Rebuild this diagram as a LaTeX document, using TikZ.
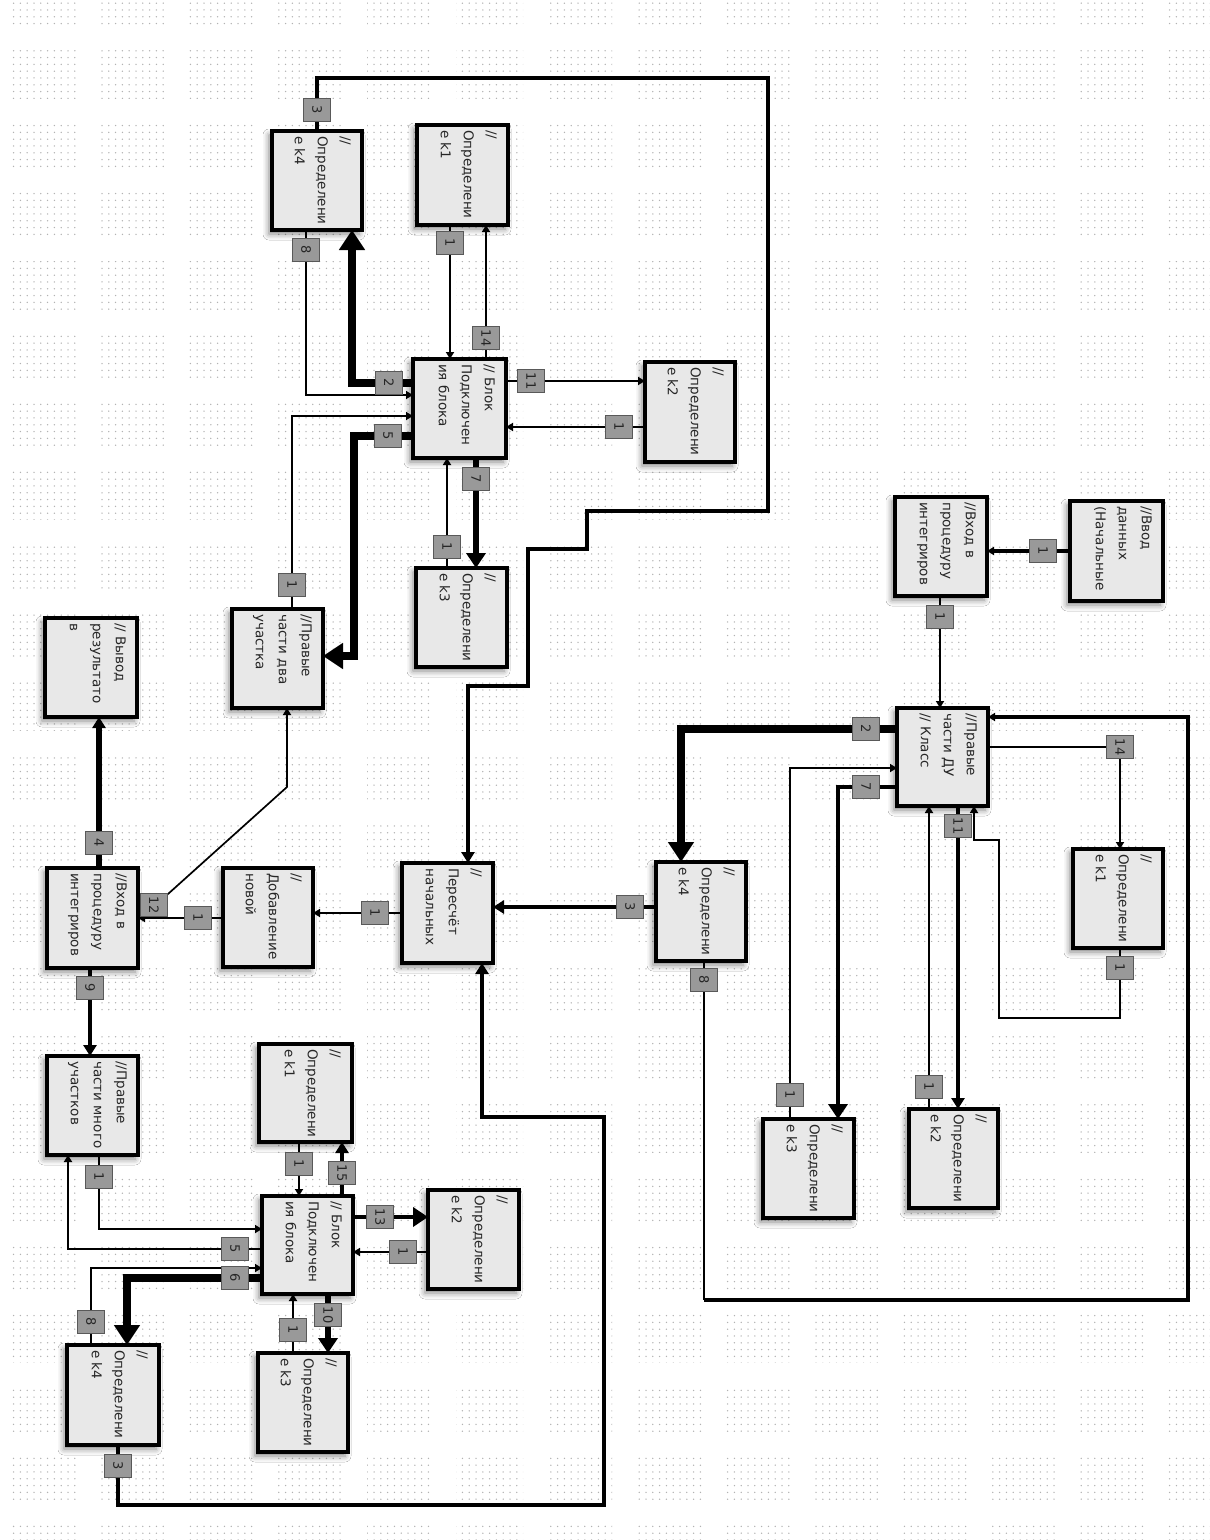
\documentclass[tikz,border=0pt]{standalone}
\usepackage{fontspec}
\setmainfont{DejaVu Sans}
\usetikzlibrary{arrows.meta,patterns.meta,shadows.blur}

\tikzset{
  tile/.style={pattern={Dots[distance=6.8pt,radius=0.75pt]},pattern color=black!30},
  boxst/.style={draw=black,line width=3.2pt,fill=black!9,inner sep=0pt,outer sep=0pt,
    blur shadow={shadow xshift=-3pt,shadow yshift=-4pt,shadow blur radius=6pt,shadow opacity=50}},
  txt/.style={rotate=-90,anchor=north west,align=left,inner sep=0pt,text=black!85,
    font=\fontsize{13.5}{23}\selectfont},
  lab/.style={rotate=-90,draw=black!65,line width=1.3pt,fill=black!40,inner sep=0pt,
    minimum width=23pt,minimum height=27pt,font=\fontsize{13}{13}\selectfont,text=black!85},
  w1/.style={line width=1.7pt},
  w2/.style={line width=2.5pt},
  w3/.style={line width=3.3pt},
  w4/.style={line width=4.5pt},
  w5/.style={line width=5.8pt},
  w7/.style={line width=7.5pt},
  sa/.style={-{Triangle[length=7pt,width=8pt]}},
  ma/.style={-{Triangle[length=11pt,width=13pt]}},
  la/.style={-{Triangle[length=15pt,width=19pt]}},
  ba/.style={-{Triangle[length=20pt,width=25pt]}},
}

% box: name, x1, y1, x2, y2, text lines
\newcommand\mkbox[6]{%
  \node[boxst,minimum width={(#4-#2)*1pt},minimum height={(#5-#3)*1pt}] (#1) at ({(#2+#4)/2},{(#3+#5)/2}) {};
  \node[txt] at ([xshift=-11pt,yshift=-5pt]#1.north east) {#6};
}

\begin{document}
\begin{tikzpicture}[x=1pt,y=-1pt]
\useasboundingbox (0,0) rectangle (1210,1540);
\fill[white] (0,0) rectangle (1210,1540);

% canvas grid tiles
\foreach \i in {0,...,13}{
  \foreach \j in {0,...,22}{
    \path[tile] ({11+89*\i},{-20+70.25*\j}) rectangle ++(67,48);
  }
}

% ---------- blocks ----------
\mkbox{b1kf}{272}{131}{362}{230}{//\\Определени\\е k4}
\mkbox{b1ka}{417}{125}{508}{225}{//\\Определени\\е k1}
\mkbox{b1blk}{413}{359}{506}{458}{// Блок\\Подключен\\ия блока}
\mkbox{b1kb}{645}{362}{735}{462}{//\\Определени\\е k2}
\mkbox{b1kc}{416}{568}{507}{667}{//\\Определени\\е k3}
\mkbox{ptwo}{232}{609}{323}{708}{//Правые\\части два\\участка}
\mkbox{outp}{45}{618}{137}{717}{// Вывод\\результато\\в}
\mkbox{inl}{47}{868}{138}{968}{//Вход в\\процедуру\\интегриров}
\mkbox{addn}{223}{868}{313}{967}{//\\Добавление\\новой}
\mkbox{recs}{402}{863}{493}{963}{//\\Пересчёт\\начальных}
\mkbox{pmany}{47}{1056}{138}{1155}{//Правые\\части много\\участков}
\mkbox{b2ka}{259}{1044}{352}{1142}{//\\Определени\\е k1}
\mkbox{b2blk}{262}{1196}{353}{1294}{// Блок\\Подключен\\ия блока}
\mkbox{b2kb}{428}{1190}{519}{1289}{//\\Определени\\е k2}
\mkbox{b2kc}{258}{1353}{348}{1452}{//\\Определени\\е k3}
\mkbox{b2kf}{67}{1345}{159}{1445}{//\\Определени\\е k4}
\mkbox{inr}{895}{497}{987}{596}{//Вход в\\процедуру\\интегриров}
\mkbox{dat}{1070}{501}{1163}{601}{//Ввод\\данных\\(Начальные}
\mkbox{rhs}{897}{708}{988}{806}{//Правые\\части ДУ\\// Класс}
\mkbox{rka}{1073}{849}{1163}{948}{//\\Определени\\е k1}
\mkbox{rkf}{656}{862}{746}{961}{//\\Определени\\е k4}
\mkbox{rkc}{763}{1119}{854}{1218}{//\\Определени\\е k3}
\mkbox{rkb}{909}{1109}{998}{1208}{//\\Определени\\е k2}

% ---------- label positions ----------
\coordinate (c1) at (317,110);  \coordinate (c2) at (306,250);
\coordinate (c3) at (389,383);  \coordinate (c5) at (388,436);
\coordinate (c4) at (292,585);  \coordinate (c6) at (450,243);
\coordinate (c7) at (486,338);  \coordinate (c8) at (531,381);
\coordinate (c9) at (619,427);  \coordinate (c10) at (476,479);
\coordinate (c11) at (447,547); \coordinate (c12) at (99,843);
\coordinate (c13) at (154,905); \coordinate (c14) at (198,918);
\coordinate (c15) at (375,913); \coordinate (c16) at (630,907);
\coordinate (c17) at (118,1466);\coordinate (c18) at (90,988);
\coordinate (c19) at (99,1177); \coordinate (c20) at (235,1249);
\coordinate (c21) at (91,1322); \coordinate (c22) at (235,1278);
\coordinate (c23) at (299,1164);\coordinate (c24) at (342,1173);
\coordinate (c25) at (380,1217);\coordinate (c26) at (403,1252);
\coordinate (c27) at (293,1330);\coordinate (c28) at (328,1315);
\coordinate (c29) at (1043,551);\coordinate (c30) at (940,617);
\coordinate (c31) at (704,980); \coordinate (c32) at (866,729);
\coordinate (c33) at (790,1095);\coordinate (c34) at (866,787);
\coordinate (c35) at (929,1087);\coordinate (c36) at (958,826);
\coordinate (c37) at (1120,968);\coordinate (c38) at (1120,747);

% ---------- connectors: upper block cluster ----------
\coordinate (t1) at (468,686);
\draw[w3,ma] (c1 |- b1kf.north) -- (317,78) -- (768,78) -- (768,511) -- (587,511)
  -- (587,549) -- (528,549) -- (528,686) -- (t1) -- (t1 |- recs.north);
\coordinate (t2) at (306,395);
\draw[w1,sa] (t2 |- b1kf.south) -- (t2) -- (t2 -| b1blk.west);
\coordinate (t3) at (352,383);
\draw[w7,ba] (b1blk.west |- t3) -- (t3) -- (t3 |- b1kf.south);
\coordinate (t4) at (292,416);
\draw[w1,sa] (t4 |- ptwo.north) -- (t4) -- (t4 -| b1blk.west);
\coordinate (t5) at (354,436); \coordinate (t5b) at (354,656);
\draw[w7,ba] (b1blk.west |- t5) -- (t5) -- (t5b) -- (t5b -| ptwo.east);
\draw[w2,sa] (c6 |- b1ka.south) -- (c6 |- b1blk.north);
\draw[w1,sa] (c7 |- b1blk.north) -- (c7 |- b1ka.south);
\draw[w2,sa] (b1blk.east |- c8) -- (b1kb.west |- c8);
\draw[w2,sa] (b1kb.west |- c9) -- (b1blk.east |- c9);
\draw[w5,la] (c10 |- b1blk.south) -- (c10 |- b1kc.north);
\draw[w1,sa] (c11 |- b1kc.north) -- (c11 |- b1blk.south);

% ---------- connectors: middle row ----------
\draw[w5,ma] (c12 |- inl.north) -- (c12 |- outp.south);
\coordinate (t13a) at (168,894); \coordinate (t13b) at (287,787);
\draw[w1,sa] (inl.east |- c13) -- (c13) -- (t13a) -- (t13b) -- (t13b |- ptwo.south);
\draw[w1,sa] (addn.west |- c14) -- (inl.east |- c14);
\draw[w1,sa] (recs.west |- c15) -- (addn.east |- c15);
\draw[w4,ma] (rkf.west |- c16) -- (recs.east |- c16);
\coordinate (t17) at (482,1117);
\draw[w3,ma] (c17 |- b2kf.south) -- (118,1505) -- (604,1505) -- (604,1117) -- (t17) -- (t17 |- recs.south);
\draw[w3,ma] (c18 |- inl.south) -- (c18 |- pmany.north);

% ---------- connectors: lower block cluster ----------
\coordinate (t19) at (99,1229);
\draw[w2,sa] (c19 |- pmany.south) -- (t19) -- (t19 -| b2blk.west);
\coordinate (t20) at (68,1249);
\draw[w2,sa] (b2blk.west |- c20) -- (t20) -- (t20 |- pmany.south);
\coordinate (t21) at (91,1268);
\draw[w1,sa] (c21 |- b2kf.north) -- (t21) -- (t21 -| b2blk.west);
\coordinate (t22) at (127,1278);
\draw[w7,ba] (b2blk.west |- c22) -- (t22) -- (t22 |- b2kf.north);
\draw[w1,sa] (c23 |- b2ka.south) -- (c23 |- b2blk.north);
\draw[w3,ma] (c24 |- b2blk.north) -- (c24 |- b2ka.south);
\draw[w4,la] (b2blk.east |- c25) -- (b2kb.west |- c25);
\draw[w2,sa] (b2kb.west |- c26) -- (b2blk.east |- c26);
\draw[w2,sa] (c27 |- b2kc.north) -- (c27 |- b2blk.south);
\draw[w5,la] (c28 |- b2blk.south) -- (c28 |- b2kc.north);

% ---------- connectors: right cluster ----------
\draw[w3,sa] (dat.west |- c29) -- (inr.east |- c29);
\draw[w2,sa] (c30 |- inr.south) -- (c30 |- rhs.north);
\coordinate (t31b) at (704,1300); \coordinate (t31c) at (1188,1300); \coordinate (t31d) at (1188,717);
\draw[w1] (c31 |- rkf.south) -- (t31b);
\draw[w3,sa] (t31b) -- (t31c) -- (t31d) -- (t31d -| rhs.east);
\coordinate (t32) at (681,729);
\draw[w7,ba] (rhs.west |- c32) -- (t32) -- (t32 |- rkf.north);
\coordinate (t33) at (790,768);
\draw[w1,sa] (c33 |- rkc.north) -- (t33) -- (t33 -| rhs.west);
\coordinate (t34) at (838,787);
\draw[w4,la] (rhs.west |- c34) -- (t34) -- (t34 |- rkc.north);
\draw[w1,sa] (c35 |- rkb.north) -- (c35 |- rhs.south);
\draw[w4,ma] (c36 |- rhs.south) -- (c36 |- rkb.north);
\coordinate (t37b) at (1120,1018); \coordinate (t37c) at (999,1018);
\coordinate (t37d) at (999,840); \coordinate (t37e) at (974,840);
\draw[w1,sa] (c37 |- rka.south) -- (t37b) -- (t37c) -- (t37d) -- (t37e) -- (t37e |- rhs.south);
\draw[w1] (rhs.east |- c38) -- (c38);
\draw[w2,sa] (c38) -- (c38 |- rka.north);

% ---------- port labels ----------
\node[lab] (n1) at (c1) {3};   \node[lab] (n2) at (c2) {8};
\node[lab] (n3) at (c3) {2};   \node[lab] (n5) at (c5) {5};
\node[lab] (n4) at (c4) {1};   \node[lab] (n6) at (c6) {1};
\node[lab] (n7) at (c7) {14};  \node[lab] (n8) at (c8) {11};
\node[lab] (n9) at (c9) {1};   \node[lab] (n10) at (c10) {7};
\node[lab] (n11) at (c11) {1}; \node[lab] (n12) at (c12) {4};
\node[lab] (n13) at (c13) {12};\node[lab] (n14) at (c14) {1};
\node[lab] (n15) at (c15) {1}; \node[lab] (n16) at (c16) {3};
\node[lab] (n17) at (c17) {3}; \node[lab] (n18) at (c18) {9};
\node[lab] (n19) at (c19) {1}; \node[lab] (n20) at (c20) {5};
\node[lab] (n21) at (c21) {8}; \node[lab] (n22) at (c22) {6};
\node[lab] (n23) at (c23) {1}; \node[lab] (n24) at (c24) {15};
\node[lab] (n25) at (c25) {13};\node[lab] (n26) at (c26) {1};
\node[lab] (n27) at (c27) {1}; \node[lab] (n28) at (c28) {10};
\node[lab] (n29) at (c29) {1}; \node[lab] (n30) at (c30) {1};
\node[lab] (n31) at (c31) {8}; \node[lab] (n32) at (c32) {2};
\node[lab] (n33) at (c33) {1}; \node[lab] (n34) at (c34) {7};
\node[lab] (n35) at (c35) {1}; \node[lab] (n36) at (c36) {11};
\node[lab] (n37) at (c37) {1}; \node[lab] (n38) at (c38) {14};
\end{tikzpicture}
\end{document}
